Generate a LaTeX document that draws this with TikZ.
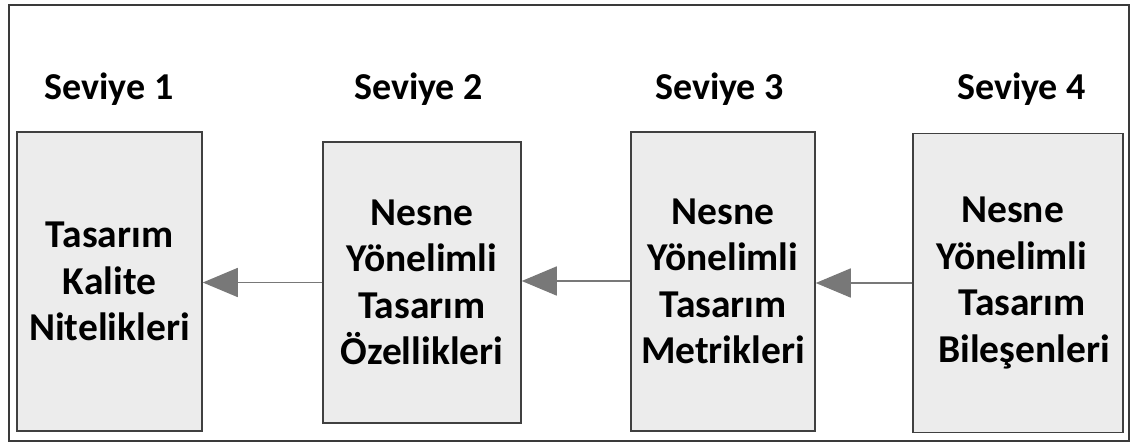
\documentclass[tikz,border=0pt]{standalone}
\usepackage{fontspec}
\setmainfont{Carlito}
\usetikzlibrary{arrows.meta}
\definecolor{framegray}{HTML}{3A3A3A}
\definecolor{boxfill}{HTML}{ECECEC}
\definecolor{boxline}{HTML}{404040}
\definecolor{arrowgray}{HTML}{787878}
\newcommand{\gap}[1]{\rule{#1}{0pt}}
\begin{document}
\begin{tikzpicture}[x=1pt,y=-1pt,
  txt/.style={font=\fontsize{38}{46.5}\selectfont\bfseries, text=black},
  levelbox/.style={font=\fontsize{39.5}{46.5}\selectfont\bfseries, text=black,
    draw=boxline, line width=1.5pt, fill=boxfill, align=center, inner sep=0pt},
  head/.style={txt, anchor=base},
  link/.style={draw=arrowgray, line width=1.5pt,
    -{Triangle[length=35pt,width=29pt,fill=arrowgray]}}]
  \useasboundingbox (0,0) rectangle (1142,442);
  % outer frame
  \draw[framegray, line width=2pt] (9,5) rectangle (1129,440.5);

  % level headings
  \node[head] (h1) at (109,99.5) {Seviye 1};
  \node[head] (h2) at (418.5,99.5) {Seviye 2};
  \node[head] (h3) at (719.5,99.5) {Seviye 3};
  \node[head] (h4) at (1021.5,99.5) {Seviye 4};

  % level boxes
  \node[levelbox, minimum width=185pt, minimum height=299pt] (b1) at (109.5,281.5)
    {Tasarım\\Kalite\\Nitelikleri};
  \node[levelbox, minimum width=198pt, minimum height=281pt] (b2) at (422,282.5)
    {Nesne\\Yönelimli\\Tasarım\\Özellikleri};
  \node[levelbox, minimum width=184pt, minimum height=299pt] (b3) at (723,281.5)
    {Nesne\\Yönelimli\\Tasarım\\Metrikleri};
  \node[levelbox, minimum width=210pt, minimum height=299pt] (b4) at (1018,283)
    {Nesne\gap{11pt}\\Yönelimli\gap{12pt}\\\gap{8pt}Tasarım\\\gap{12pt}Bileşenleri};

  % dependencies between levels
  \draw[link] (b2.west) -- (b2.west -| b1.east);
  \draw[link] ([yshift=0.5pt]b3.west) -- ([yshift=0.5pt]b3.west -| b2.east);
  \draw[link] (b4.west) -- (b4.west -| b3.east);
\end{tikzpicture}
\end{document}
